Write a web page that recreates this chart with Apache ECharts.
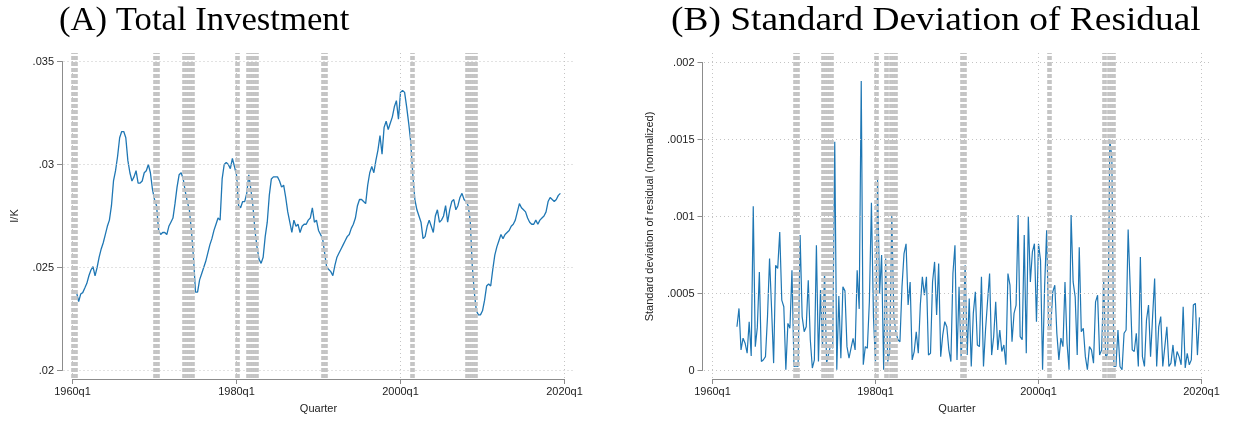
<!DOCTYPE html>
<html><head><meta charset="utf-8">
<script src="https://cdn.jsdelivr.net/npm/echarts@6/dist/echarts.min.js"></script>
<style>html,body{margin:0;padding:0;background:#fff}#c{width:1233px;height:421px}</style>
</head><body><div id="c"></div>
<script>
const titleA = '(A) Total Investment';
const titleB = '(B) Standard Deviation of Residual';
const yNameA = 'I/K';
const yNameB = 'Standard deviation of residual (normalized)';
const xName = 'Quarter';

const startA = '1960q3';
const valuesA = [
.02378,.02334,.02371,.02378,.0240,.02423,.0246,.02488,.02504,.02459,
.0250,.0255,.0259,.0262,.0266,.0270,.0273,.0280,.0292,.0297,
.0304,.0313,.0316,.0316,.0313,.0302,.0296,.0292,.0294,.0297,
.0291,.0291,.0292,.0296,.0297,.0300,.0296,.0288,.0283,.0280,
.0268,.0266,.0267,.0267,.0266,.0270,.0272,.0274,.0281,.0289,
.0295,.0296,.0293,.0287,.0282,.0278,.0268,.0255,.0238,.0238,
.0244,.0247,.0250,.0253,.0257,.0261,.0264,.0268,.0271,.0274,
.0273,.0293,.0300,.0301,.0300,.0298,.0303,.0299,.0295,.0280,
.0279,.0282,.0282,.0286,.0295,.0288,.0280,.0268,.0260,.0254,
.0252,.0255,.0265,.0272,.0285,.0293,.0294,.0294,.0294,.0292,
.0289,.0290,.0284,.0277,.0272,.0267,.0273,.0270,.0271,.0267,
.0270,.0271,.0271,.0273,.0274,.0279,.0272,.0273,.0268,.0266,
.0264,.0257,.0250,.0249,.0248,.0246,.0251,.0255,.0257,.0259,
.0261,.0263,.0265,.0266,.0269,.0271,.0274,.0280,.0283,.0283,
.0282,.0281,.0290,.0296,.0299,.0296,.0302,.0307,.0314,.0305,
.0318,.0321,.0317,.0320,.0323,.0328,.0331,.0322,.0335,.0336,
.0335,.0328,.0320,.0311,.0295,.0283,.0278,.0275,.0272,.0264,
.0265,.0270,.0273,.0270,.0267,.0275,.0278,.0272,.0273,.0275,
.0280,.0272,.0278,.0282,.0283,.0278,.0280,.0284,.0286,.0283,
.0282,.0280,.0273,.0251,.0238,.0229,.0227,.0227,.0229,.0234,
.0241,.0242,.0241,.0249,.0256,.0260,.0263,.0266,.0264,.0266,
.0267,.0268,.0270,.0271,.0273,.0277,.0281,.0279,.0278,.0277,
.0274,.0272,.0271,.0271,.0273,.0271,.0273,.0274,.0275,.0277,
.0282,.0284,.0283,.0282,.0283,.0285,.0286
];

const startB = '1963q1';
const valuesB = [
.000284,.000403,.000134,.00021,.000177,.000112,.000317,.000095,.001067,.000155,
.00028,.00064,.000058,.00007,.00009,.00035,.000727,.0004,.000048,.000683,
.000662,.000899,.000457,.000414,.000005,.000306,.000274,.000651,.000026,.00003,
.000026,.00088,.00035,.000252,.000284,.000586,.0002,.000016,.000069,.000813,
.000058,.000522,.000155,.00064,.000048,.00011,.000166,.000145,.001485,.000005,
.000483,.00008,.000543,.000517,.000155,.00008,.000145,.000209,.000134,.000651,
.0004,.00188,.000037,.000155,.000145,.00045,.00109,.00035,.000048,.00124,
.0005,.00075,.000005,.000727,.000058,.000123,.00101,.00035,.00025,.0002,
.000187,.000543,.000759,.000823,.000425,.000575,.000069,.000123,.000252,.000112,
.000425,.000608,.000489,.000608,.000101,.000112,.000575,.000705,.00036,.000694,
.00009,.00023,.000317,.000284,.000134,.000058,.00063,.000813,.000069,.000543,
.00009,.000284,.000683,.0001,.000468,.000026,.000371,.000511,.000166,.000155,
.000608,.000026,.000263,.00045,.00063,.0001,.00022,.000446,.000134,.000263,
.000123,.000166,.000037,.00063,.000554,.000187,.000371,.000425,.00101,.00022,
.0002,.00088,.000112,.001,.000575,.00077,.000823,.000317,.000823,.000716,
.000005,.000543,.00091,.000263,.000284,.000511,.000554,.000242,.000069,.00021,
.000155,.000575,.000177,.000005,.00101,.000575,.000478,.0001,.0008,.000252,
.000274,.00009,.000005,.000155,.000134,.000048,.000446,.000489,.0001,.000134,
.000586,.00007,.00012,.0015,.00138,.000026,.000026,.000263,.000026,.000005,
.000242,.000263,.000916,.000543,.000134,.000123,.000242,.000026,.000737,.00009,
.000026,.000328,.000425,.00009,.00035,.000597,.000026,.000284,.00035,.000026,
.000155,.000284,.000026,.000048,.000166,.000026,.000123,.00009,.000037,.000414,
.000016,.000112,.000037,.000069,.000425,.000436,.0001,.000345
];

const recessionQuarters = [
'1960q1','1960q2','1960q3',
'1970q1','1970q2','1970q3',
'1973q3','1973q4','1974q1','1974q2','1974q3','1974q4',
'1980q1','1980q2',
'1981q2','1981q3','1981q4','1982q1','1982q2','1982q3',
'1990q3','1990q4','1991q1',
'2001q2','2001q3',
'2008q1','2008q2','2008q3','2008q4','2009q1','2009q2'
];
const xTickYears = [1960, 1980, 2000, 2020];
const yTicksA = [0.02, 0.025, 0.03, 0.035];
const yTicksB = [0, 0.0005, 0.001, 0.0015, 0.002];

function qToYear(s){ const p = s.split('q'); return +p[0] + (+p[1]-1)/4; }
function series2xy(start, vals){ const s = qToYear(start); return vals.map((v,i)=>[s + i/4, v]); }
function fmtY(v){ if (Math.abs(v) < 1e-12) return '0'; return String(parseFloat(v.toFixed(5))).replace(/^0\./,'.'); }

const AXC = '#8c8c8c', TXT = '#222', GRIDC = '#c4c4c4', BANDC = '#c4c4c4', LINEC = '#1f77b4';
const FONT = 'Liberation Sans, Arial, sans-serif';
const TFONT = 'Liberation Serif, serif';

const chart = echarts.init(document.getElementById('c'), null, {renderer:'canvas'});

function hidden(extra){ return Object.assign({type:'value', show:true, axisLine:{show:false}, axisTick:{show:false}, axisLabel:{show:false}, splitLine:{show:false}}, extra); }
function innerX(gi){ return {type:'value', gridIndex:gi, min:1960, max:2020, interval:20, offset:8.5,
  axisLine:{show:true, onZero:false, lineStyle:{color:AXC, width:1}}, axisTick:{show:true, length:5, lineStyle:{color:AXC}},
  axisLabel:{margin:7, color:TXT, fontSize:11, fontFamily:FONT, formatter:v=>v+'q1'}, splitLine:{show:false},
  name:xName, nameLocation:'middle', nameGap:24, nameTextStyle:{color:TXT, fontSize:11, fontFamily:FONT}}; }
function innerY(gi, min, max, interval, offset, name, gap){ return {type:'value', gridIndex:gi, min, max, interval, offset,
  axisLine:{show:true, onZero:false, lineStyle:{color:AXC, width:1}}, axisTick:{show:true, length:5, lineStyle:{color:AXC}},
  axisLabel:{margin:8, color:TXT, fontSize:11, fontFamily:FONT, formatter:fmtY}, splitLine:{show:false},
  name, nameLocation:'middle', nameGap:gap, nameTextStyle:{color:TXT, fontSize:11, fontFamily:FONT}}; }

function gridLines(ax, yt){ return {type:'line', xAxisIndex:ax, yAxisIndex:ax, data:[], z:1, silent:true,
  markLine:{symbol:'none', silent:true, animation:false, precision:8, label:{show:false},
    lineStyle:{color:GRIDC, width:1, type:[1,3]},
    data: xTickYears.map(v=>({xAxis:v})).concat(yt.map(v=>({yAxis:v})))}}; }
function bands(ax, from){ return {type:'line', xAxisIndex:ax, yAxisIndex:ax, data:[], z:2, silent:true,
  markLine:{symbol:'none', silent:true, animation:false, precision:8, label:{show:false},
    lineStyle:{color:BANDC, width:2.6, type:[4,2]},
    data: recessionQuarters.map(qToYear).filter(v=>v>=from).map(v=>({xAxis:v}))}}; }

function titleText(text, x, sx){ return {type:'text', x, y:4, scaleX:sx, silent:true,
  style:{text, fontFamily:TFONT, fontSize:34, fill:'#000', verticalAlign:'top', align:'left'}}; }

const option = {
  animation:false,
  backgroundColor:'#fff',
  graphic:[ titleText(titleA, 59, 1.02), titleText(titleB, 671, 1.1) ],
  grid:[
    {left:63.5, top:53, width:511.5, height:325},
    {left:72.5, top:61.5, width:492, height:309},
    {left:704, top:53, width:506, height:325},
    {left:712.5, top:62.5, width:489, height:308}
  ],
  xAxis:[
    hidden({gridIndex:0, min:1958.9024, max:2021.2805}),
    innerX(1),
    hidden({gridIndex:2, min:1958.957, max:2021.043}),
    innerX(3)
  ],
  yAxis:[
    hidden({gridIndex:0, min:0.0196359, max:0.0354126}),
    innerY(1, 0.02, 0.035, 0.005, 10.5, yNameA, 42),
    hidden({gridIndex:2, min:-0.0000487, max:0.0020617}),
    innerY(3, 0, 0.002, 0.0005, 10, yNameB, 47.5)
  ],
  series:[
    gridLines(0, yTicksA),
    bands(0, -Infinity),
    {type:'line', xAxisIndex:0, yAxisIndex:0, z:3, data:series2xy(startA, valuesA), symbol:'none', lineStyle:{color:LINEC, width:1.3}},
    gridLines(2, yTicksB),
    bands(2, qToYear(startB)),
    {type:'line', xAxisIndex:2, yAxisIndex:2, z:3, data:series2xy(startB, valuesB), symbol:'none', lineStyle:{color:LINEC, width:1.2}},
    {type:'line', xAxisIndex:1, yAxisIndex:1, data:[]},
    {type:'line', xAxisIndex:3, yAxisIndex:3, data:[]}
  ]
};
chart.setOption(option);
</script></body></html>
